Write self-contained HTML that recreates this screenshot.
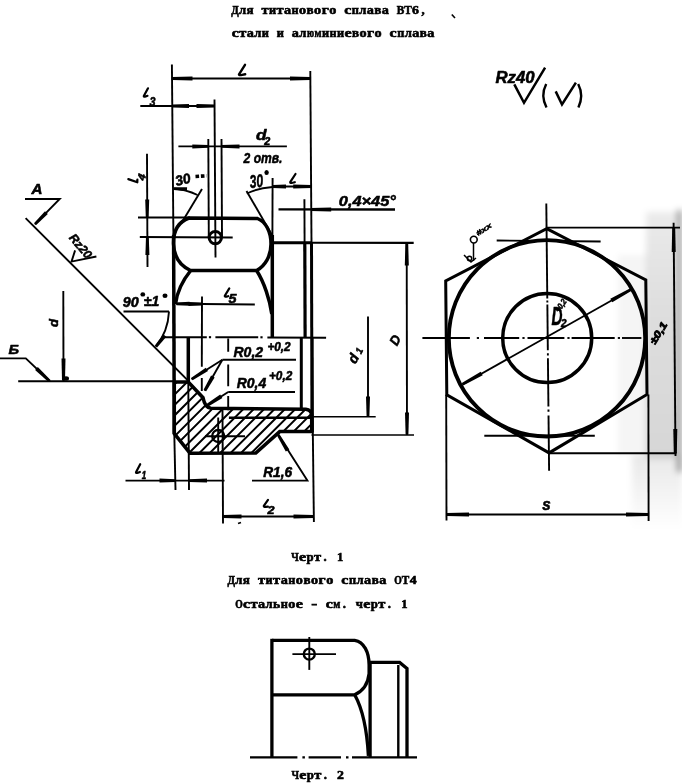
<!DOCTYPE html>
<html><head><meta charset="utf-8"><style>
html,body{margin:0;padding:0;background:#fff;}
body{width:682px;height:784px;overflow:hidden;position:relative;font-family:"Liberation Sans",sans-serif;}
svg{position:absolute;left:0;top:0;will-change:transform;}
</style></head><body>
<svg width="682" height="784" viewBox="0 0 682 784" stroke="#000" fill="#000" stroke-linecap="butt">
<defs>
<linearGradient id="ng" x1="0" x2="0" y1="0" y2="1">
<stop offset="0" stop-color="#000" stop-opacity="0.08"/>
<stop offset="0.4" stop-color="#000" stop-opacity="0.13"/>
<stop offset="1" stop-color="#000" stop-opacity="0.16"/>
</linearGradient>
<linearGradient id="ng2" x1="0" x2="0" y1="0" y2="1">
<stop offset="0" stop-color="#000" stop-opacity="0.09"/>
<stop offset="1" stop-color="#000" stop-opacity="0"/>
</linearGradient>
<radialGradient id="rg"><stop offset="0" stop-color="#000" stop-opacity="0.34"/><stop offset="0.55" stop-color="#000" stop-opacity="0.2"/><stop offset="0.85" stop-color="#000" stop-opacity="0.06"/><stop offset="1" stop-color="#000" stop-opacity="0"/></radialGradient>
<radialGradient id="rg2"><stop offset="0" stop-color="#000" stop-opacity="0.12"/><stop offset="1" stop-color="#000" stop-opacity="0"/></radialGradient>
<filter id="nb" x="-20%" y="-20%" width="140%" height="140%"><feGaussianBlur stdDeviation="3"/></filter>
</defs>
<g filter="url(#nb)" stroke="none">
<rect x="646" y="212" width="31" height="246" fill="url(#ng)"/>
<rect x="677" y="210" width="5" height="262" fill="#000" fill-opacity="0.38"/>
<rect x="632" y="455" width="50" height="75" fill="url(#ng2)"/>
<rect x="618" y="255" width="30" height="200" fill="#000" fill-opacity="0.04"/>
</g>
<g stroke="#000">
<g font-family="Liberation Serif" font-size="12.6" font-weight="bold" stroke="#000" stroke-width="0.6"><text x="231.21" y="13.7" textLength="7.50" lengthAdjust="spacingAndGlyphs">Д</text><text x="238.93" y="13.7" textLength="7.10" lengthAdjust="spacingAndGlyphs">л</text><text x="246.45" y="13.7" textLength="7.10" lengthAdjust="spacingAndGlyphs">я</text><text x="261.49" y="13.7" textLength="7.10" lengthAdjust="spacingAndGlyphs">т</text><text x="269.01" y="13.7" textLength="7.10" lengthAdjust="spacingAndGlyphs">и</text><text x="276.53" y="13.7" textLength="7.10" lengthAdjust="spacingAndGlyphs">т</text><text x="284.05" y="13.7" textLength="7.10" lengthAdjust="spacingAndGlyphs">а</text><text x="291.57" y="13.7" textLength="7.10" lengthAdjust="spacingAndGlyphs">н</text><text x="299.09" y="13.7" textLength="7.10" lengthAdjust="spacingAndGlyphs">о</text><text x="306.61" y="13.7" textLength="7.10" lengthAdjust="spacingAndGlyphs">в</text><text x="314.13" y="13.7" textLength="7.10" lengthAdjust="spacingAndGlyphs">о</text><text x="321.65" y="13.7" textLength="7.10" lengthAdjust="spacingAndGlyphs">г</text><text x="329.17" y="13.7" textLength="7.10" lengthAdjust="spacingAndGlyphs">о</text><text x="344.21" y="13.7" textLength="7.10" lengthAdjust="spacingAndGlyphs">с</text><text x="351.73" y="13.7" textLength="7.10" lengthAdjust="spacingAndGlyphs">п</text><text x="359.25" y="13.7" textLength="7.10" lengthAdjust="spacingAndGlyphs">л</text><text x="366.77" y="13.7" textLength="7.10" lengthAdjust="spacingAndGlyphs">а</text><text x="374.29" y="13.7" textLength="7.10" lengthAdjust="spacingAndGlyphs">в</text><text x="381.81" y="13.7" textLength="7.10" lengthAdjust="spacingAndGlyphs">а</text><text x="396.65" y="13.7" textLength="7.50" lengthAdjust="spacingAndGlyphs">В</text><text x="404.17" y="13.7" textLength="7.50" lengthAdjust="spacingAndGlyphs">Т</text><text x="411.99" y="13.7" textLength="6.90" lengthAdjust="spacingAndGlyphs">6</text><text x="421.38" y="13.7" textLength="3.16" lengthAdjust="spacingAndGlyphs">,</text></g>
<g font-family="Liberation Serif" font-size="12.6" font-weight="bold" stroke="#000" stroke-width="0.6"><text x="231.71" y="36.6" textLength="7.10" lengthAdjust="spacingAndGlyphs">с</text><text x="239.23" y="36.6" textLength="7.10" lengthAdjust="spacingAndGlyphs">т</text><text x="246.75" y="36.6" textLength="7.10" lengthAdjust="spacingAndGlyphs">а</text><text x="254.27" y="36.6" textLength="7.10" lengthAdjust="spacingAndGlyphs">л</text><text x="261.79" y="36.6" textLength="7.10" lengthAdjust="spacingAndGlyphs">и</text><text x="276.83" y="36.6" textLength="7.10" lengthAdjust="spacingAndGlyphs">и</text><text x="291.87" y="36.6" textLength="7.10" lengthAdjust="spacingAndGlyphs">а</text><text x="299.39" y="36.6" textLength="7.10" lengthAdjust="spacingAndGlyphs">л</text><text x="306.91" y="36.6" textLength="7.10" lengthAdjust="spacingAndGlyphs">ю</text><text x="314.43" y="36.6" textLength="7.10" lengthAdjust="spacingAndGlyphs">м</text><text x="321.95" y="36.6" textLength="7.10" lengthAdjust="spacingAndGlyphs">и</text><text x="329.47" y="36.6" textLength="7.10" lengthAdjust="spacingAndGlyphs">н</text><text x="336.99" y="36.6" textLength="7.10" lengthAdjust="spacingAndGlyphs">и</text><text x="344.51" y="36.6" textLength="7.10" lengthAdjust="spacingAndGlyphs">е</text><text x="352.03" y="36.6" textLength="7.10" lengthAdjust="spacingAndGlyphs">в</text><text x="359.55" y="36.6" textLength="7.10" lengthAdjust="spacingAndGlyphs">о</text><text x="367.07" y="36.6" textLength="7.10" lengthAdjust="spacingAndGlyphs">г</text><text x="374.59" y="36.6" textLength="7.10" lengthAdjust="spacingAndGlyphs">о</text><text x="389.63" y="36.6" textLength="7.10" lengthAdjust="spacingAndGlyphs">с</text><text x="397.15" y="36.6" textLength="7.10" lengthAdjust="spacingAndGlyphs">п</text><text x="404.67" y="36.6" textLength="7.10" lengthAdjust="spacingAndGlyphs">л</text><text x="412.19" y="36.6" textLength="7.10" lengthAdjust="spacingAndGlyphs">а</text><text x="419.71" y="36.6" textLength="7.10" lengthAdjust="spacingAndGlyphs">в</text><text x="427.23" y="36.6" textLength="7.10" lengthAdjust="spacingAndGlyphs">а</text></g>
<line x1="451.8" y1="14.5" x2="455" y2="18" stroke-width="1.6" />
<text x="495.5" y="82.6" font-family="Liberation Sans" font-size="16" font-style="italic" font-weight="bold" textLength="39" lengthAdjust="spacingAndGlyphs"  stroke="#000" stroke-width="0.55" stroke-linejoin="round">Rz40</text>
<path d="M514.3,84.3 L524,102.8 L545.1,67.6" stroke-width="2.5" fill="none" />
<path d="M546.2,84 Q540.3,95.5 546.5,107.5" stroke-width="2.4" fill="none" />
<path d="M555.7,91.4 L562,104.5 L575.9,82.6" stroke-width="2.5" fill="none" />
<path d="M578.2,84 Q584,95.5 578.4,107.5" stroke-width="2.4" fill="none" />
<line x1="171.9" y1="64.4" x2="173.4" y2="235" stroke-width="1.9" />
<line x1="310.3" y1="71" x2="311.5" y2="243.5" stroke-width="1.9" />
<line x1="172" y1="78.5" x2="310.3" y2="78.5" stroke-width="1.9" />
<path d="M172.5,77.0 L192.5,76.5 L192.5,80.5 L172.5,80.0 Z" fill="#000" stroke="none"/>
<path d="M310.0,80.0 L290.0,80.5 L290.0,76.5 L310.0,77.0 Z" fill="#000" stroke="none"/>
<path d="M245,64.8 L239,74.3 Q238.7,75.5 242.1,74.89999999999999 L245.2,74.3" stroke-width="2.4" fill="none" stroke-linecap="round" stroke-linejoin="round"/>
<line x1="140.3" y1="106" x2="215" y2="106" stroke-width="1.9" />
<path d="M173.0,104.5 L189.0,104.0 L189.0,108.0 L173.0,107.5 Z" fill="#000" stroke="none"/>
<path d="M214.5,107.5 L196.5,108.0 L196.5,104.0 L214.5,104.5 Z" fill="#000" stroke="none"/>
<line x1="214.5" y1="99.6" x2="215.5" y2="257.5" stroke-width="1.9" />
<path d="M148,88.3 L143.8,96 Q143.5,97.2 145.65,96.5 L147.5,95.8" stroke-width="2.2" fill="none" stroke-linecap="round" stroke-linejoin="round"/>
<text x="149.6" y="105.6" font-family="Liberation Sans" font-size="13" font-style="italic" font-weight="bold" textLength="6" lengthAdjust="spacingAndGlyphs"  stroke="#000" stroke-width="0.55" stroke-linejoin="round">3</text>
<line x1="178.4" y1="146.4" x2="286.9" y2="146.4" stroke-width="1.9" />
<path d="M208.3,147.8 L192.3,148.4 L192.3,144.4 L208.3,145.0 Z" fill="#000" stroke="none"/>
<path d="M221.5,145.0 L239.5,144.4 L239.5,148.4 L221.5,147.8 Z" fill="#000" stroke="none"/>
<line x1="208.3" y1="139" x2="208.8" y2="237" stroke-width="1.9" />
<line x1="221.5" y1="139" x2="222" y2="237" stroke-width="1.9" />
<text x="256" y="139.7" font-family="Liberation Sans" font-size="15" font-style="italic" font-weight="bold" textLength="10.5" lengthAdjust="spacingAndGlyphs"  stroke="#000" stroke-width="0.55" stroke-linejoin="round">d</text>
<text x="264.2" y="144.5" font-family="Liberation Sans" font-size="10" font-style="italic" font-weight="bold" textLength="6" lengthAdjust="spacingAndGlyphs"  stroke="#000" stroke-width="0.55" stroke-linejoin="round">2</text>
<text x="243.6" y="162.5" font-family="Liberation Sans" font-size="14.5" font-style="italic" font-weight="bold" textLength="38.8" lengthAdjust="spacingAndGlyphs"  stroke="#000" stroke-width="0.55" stroke-linejoin="round">2 отв.</text>
<line x1="147" y1="153.7" x2="147.5" y2="267" stroke-width="1.9" />
<path d="M145.8,217.5 L145.2,199.5 L149.2,199.5 L148.6,217.5 Z" fill="#000" stroke="none"/>
<path d="M148.8,237.0 L149.4,255.0 L145.4,255.0 L146.0,237.0 Z" fill="#000" stroke="none"/>
<line x1="138" y1="217.5" x2="190" y2="217.5" stroke-width="1.9" />
<line x1="139.8" y1="237" x2="232.7" y2="237.5" stroke-width="1.9" />
<path d="M128.3,179.1 L137.3,182.3 L137.4,179.6" stroke-width="2.2" fill="none" stroke-linecap="round" stroke-linejoin="round"/>
<text x="0" y="0" font-family="Liberation Sans" font-size="11" font-style="italic" font-weight="bold" transform="translate(144.5,181) rotate(-75)" stroke="#000" stroke-width="0.55" stroke-linejoin="round">4</text>
<text x="0" y="0" font-family="Liberation Sans" font-size="14" font-style="italic" font-weight="bold" textLength="15.5" lengthAdjust="spacingAndGlyphs" transform="translate(176.5,186) rotate(-14)" stroke="#000" stroke-width="0.55" stroke-linejoin="round">30</text>
<path d="M195.5,176.5 L206.5,175.8" stroke-width="3.6" stroke-dasharray="3.6,1.8" fill="none"/>
<path d="M173.5,188.5 Q186,189.5 197.5,195" stroke-width="1.9" fill="none" />
<path d="M174.1,187.2 L187.1,187.3 L186.9,191.2 L173.9,190.0 Z" fill="#000" stroke="none"/>
<line x1="202" y1="189" x2="181.5" y2="223" stroke-width="1.9" />
<text x="0" y="0" font-family="Liberation Sans" font-size="18" font-style="italic" font-weight="bold" textLength="13.5" lengthAdjust="spacingAndGlyphs" transform="translate(250.2,188) rotate(-6)" stroke="#000" stroke-width="0.55" stroke-linejoin="round">30</text>
<ellipse cx="266.6" cy="172.5" rx="2.2" ry="2.5" fill="#000" stroke="none"/>
<path d="M246.8,193.5 Q258,188 272.6,187" stroke-width="1.9" fill="none" />
<line x1="246.5" y1="191" x2="272" y2="235" stroke-width="1.9" />
<line x1="272.6" y1="186.5" x2="311.5" y2="186.5" stroke-width="1.9" />
<path d="M311.2,187.9 L293.2,188.5 L293.2,184.5 L311.2,185.1 Z" fill="#000" stroke="none"/>
<path d="M273.0,185.1 L286.0,184.5 L286.0,188.5 L273.0,187.9 Z" fill="#000" stroke="none"/>
<path d="M295.5,174 L290.2,182.2 Q289.9,183.39999999999998 292.5,182.79999999999998 L294.8,182.2" stroke-width="2.2" fill="none" stroke-linecap="round" stroke-linejoin="round"/>
<line x1="272.6" y1="178" x2="272.4" y2="235" stroke-width="1.9" />
<line x1="278.5" y1="209.3" x2="395" y2="209.5" stroke-width="2.3" />
<path d="M311.2,208.1 L331.2,207.5 L331.2,211.5 L311.2,210.9 Z" fill="#000" stroke="none"/>
<text x="338.8" y="205.9" font-family="Liberation Sans" font-size="15" font-style="italic" font-weight="bold" textLength="57" lengthAdjust="spacingAndGlyphs"  stroke="#000" stroke-width="0.55" stroke-linejoin="round">0,4×45°</text>
<line x1="304.4" y1="199.3" x2="304.6" y2="243" stroke-width="1.9" />
<line x1="272" y1="242.7" x2="311.5" y2="242.7" stroke-width="2.9" />
<line x1="311.5" y1="242.7" x2="413.7" y2="242.9" stroke-width="2.1" />
<line x1="406.7" y1="242.7" x2="407" y2="435" stroke-width="1.9" />
<path d="M408.2,243.5 L408.8,265.5 L404.8,265.5 L405.4,243.5 Z" fill="#000" stroke="none"/>
<path d="M405.6,434.5 L405.0,412.5 L409.0,412.5 L408.4,434.5 Z" fill="#000" stroke="none"/>
<text x="0" y="0" font-family="Liberation Sans" font-size="13.5" font-style="italic" font-weight="bold" textLength="9.5" lengthAdjust="spacingAndGlyphs" transform="translate(397,346.5) rotate(-62)" stroke="#000" stroke-width="0.55" stroke-linejoin="round">D</text>
<line x1="311.5" y1="435" x2="414" y2="435" stroke-width="1.6" />
<line x1="368" y1="316.6" x2="368" y2="417" stroke-width="1.9" />
<path d="M366.6,416.5 L366.0,396.5 L370.0,396.5 L369.4,416.5 Z" fill="#000" stroke="none"/>
<line x1="311.5" y1="416.7" x2="375.7" y2="416.7" stroke-width="1.6" />
<text x="0" y="0" font-family="Liberation Sans" font-size="14" font-style="italic" font-weight="bold" textLength="8.5" lengthAdjust="spacingAndGlyphs" transform="translate(355.5,364.5) rotate(-62)" stroke="#000" stroke-width="0.55" stroke-linejoin="round">d</text>
<text x="0" y="0" font-family="Liberation Sans" font-size="10" font-style="italic" font-weight="bold" textLength="5" lengthAdjust="spacingAndGlyphs" transform="translate(361,354.5) rotate(-62)" stroke="#000" stroke-width="0.55" stroke-linejoin="round">1</text>
<line x1="162.6" y1="337.2" x2="206.8" y2="337.2" stroke-width="2.1" />
<line x1="208.9" y1="337.2" x2="211.1" y2="337.2" stroke-width="2.1" />
<line x1="215.4" y1="337.3" x2="258.2" y2="337.3" stroke-width="2.1" />
<line x1="260.4" y1="337.3" x2="262.6" y2="337.3" stroke-width="2.1" />
<line x1="267.4" y1="337.5" x2="326.1" y2="337.7" stroke-width="2.1" />
<path d="M189,218 L257.5,218.5 C266,222 271,232 271,244 C271,256 265,266 256.6,270.5 L190.5,270.5 C181,266 174,257 173.5,244 C173.2,232 178,222 189,218 Z" stroke-width="3.5" fill="none" />
<path d="M190.7,270.5 C183,280 177,292 175.5,304" stroke-width="3.5" fill="none" />
<path d="M256.6,270.5 C264,282 270,300 271.8,314" stroke-width="3.5" fill="none" />
<line x1="173.6" y1="235" x2="174.3" y2="434" stroke-width="3.5" />
<line x1="272.3" y1="235" x2="272.3" y2="338" stroke-width="3.5" />
<line x1="304.8" y1="243" x2="305.1" y2="338" stroke-width="3.2" />
<line x1="311.5" y1="243" x2="311.75" y2="338" stroke-width="3.0" />
<line x1="311.7" y1="338" x2="313.9" y2="522" stroke-width="1.9" />
<line x1="312" y1="338" x2="312.1" y2="432" stroke-width="3.4" />
<circle cx="215.3" cy="237.6" r="6.2" stroke-width="3.0" fill="none"/>
<line x1="188.3" y1="337" x2="188.3" y2="382" stroke-width="3.5" />
<line x1="188.3" y1="382" x2="189" y2="490" stroke-width="1.9" />
<line x1="174.3" y1="434" x2="175.5" y2="490" stroke-width="1.9" />
<line x1="301.3" y1="338" x2="301.3" y2="408" stroke-width="3.0" />
<line x1="201.8" y1="378" x2="201.8" y2="391" stroke-width="1.9" />
<line x1="228.2" y1="338.6" x2="228.2" y2="410.3" stroke-width="1.9" stroke-dasharray="13.2,12.6,21.8,9.8,14.3"/>
<line x1="222.5" y1="410" x2="223" y2="523.5" stroke-width="1.9" />
<clipPath id="hc"><path d="M174.3,382 L188.3,382 L203,397.7 Q205,408 211,408.3 L305.8,409.2 Q311.2,410 311.7,415 L311.7,431.6 L279.7,431.6 L255.8,453.1 L190,453.2 L174.3,433.6 Z"/></clipPath>
<path d="M-244.0,470 L-144.0,370 M-233.60000000000002,470 L-133.60000000000002,370 M-223.2,470 L-123.19999999999999,370 M-212.8,470 L-112.80000000000001,370 M-202.40000000000003,470 L-102.40000000000003,370 M-192.0,470 L-92.0,370 M-181.60000000000002,470 L-81.60000000000002,370 M-171.2,470 L-71.19999999999999,370 M-160.8,470 L-60.80000000000001,370 M-150.40000000000003,470 L-50.400000000000034,370 M-140.0,470 L-40.0,370 M-129.60000000000002,470 L-29.600000000000023,370 M-119.19999999999999,470 L-19.19999999999999,370 M-108.80000000000001,470 L-8.800000000000011,370 M-98.40000000000003,470 L1.599999999999966,370 M-88.0,470 L12.0,370 M-77.60000000000002,470 L22.399999999999977,370 M-67.20000000000002,470 L32.79999999999998,370 M-56.80000000000001,470 L43.19999999999999,370 M-46.400000000000006,470 L53.599999999999994,370 M-36.0,470 L64.0,370 M-25.599999999999994,470 L74.4,370 M-15.200000000000017,470 L84.79999999999998,370 M-4.800000000000011,470 L95.19999999999999,370 M5.599999999999994,470 L105.6,370 M16.0,470 L116.0,370 M26.400000000000006,470 L126.4,370 M36.79999999999998,470 L136.79999999999998,370 M47.19999999999999,470 L147.2,370 M57.599999999999994,470 L157.6,370 M68.0,470 L168.0,370 M78.39999999999999,470 L178.39999999999998,370 M88.8,470 L188.8,370 M99.2,470 L199.2,370 M109.6,470 L209.6,370 M120.0,470 L220.0,370 M130.4,470 L230.4,370 M140.8,470 L240.8,370 M151.2,470 L251.2,370 M161.6,470 L261.6,370 M172.0,470 L272.0,370 M182.4,470 L282.4,370 M192.8,470 L292.8,370 M203.2,470 L303.2,370 M213.6,470 L313.6,370 M224.0,470 L324.0,370 M234.4,470 L334.4,370 M244.8,470 L344.8,370 M255.2,470 L355.2,370 M265.6,470 L365.6,370 M276.0,470 L376.0,370 M286.4,470 L386.4,370 M296.8,470 L396.8,370 M307.20000000000005,470 L407.20000000000005,370 M317.6,470 L417.6,370 M328.0,470 L428.0,370 M338.4,470 L438.4,370 M348.8,470 L448.8,370 M359.20000000000005,470 L459.20000000000005,370 M369.6,470 L469.6,370 M380.0,470 L480.0,370 M390.4,470 L490.4,370 M400.8,470 L500.8,370 M411.20000000000005,470 L511.20000000000005,370 M421.6,470 L521.6,370 M432.0,470 L532.0,370 M442.40000000000003,470 L542.4000000000001,370 M452.8,470 L552.8,370 M463.2,470 L563.2,370 M473.6,470 L573.6,370 M484.0,470 L584.0,370 M494.40000000000003,470 L594.4000000000001,370 M504.8,470 L604.8,370 M515.2,470 L615.2,370 M525.6,470 L625.6,370 M536.0,470 L636.0,370 M546.4000000000001,470 L646.4000000000001,370 M556.8,470 L656.8,370 M567.2,470 L667.2,370 M577.6,470 L677.6,370" stroke-width="2.0" clip-path="url(#hc)"/>
<path d="M174.3,382 L188.3,382 L203,397.7 Q205,408 211,408.3 L305.8,409.2 Q311.2,410 311.7,415 L311.7,431.6 L279.7,431.6 L255.8,453.1 L190,453.2 L174.3,433.6 Z" stroke-width="3.5" fill="none" />
<line x1="228.9" y1="417.7" x2="310.5" y2="417.7" stroke-width="2.6" />
<circle cx="218.2" cy="436" r="6.0" stroke-width="2.3" fill="none"/>
<line x1="205" y1="436.2" x2="245" y2="436.2" stroke-width="1.9" />
<line x1="218.2" y1="417.5" x2="218.2" y2="453.2" stroke-width="1.9" />
<line x1="25.6" y1="218.1" x2="188.3" y2="380.8" stroke-width="1.9" />
<text x="233.5" y="356.9" font-family="Liberation Sans" font-size="15" font-style="italic" font-weight="bold" textLength="29.6" lengthAdjust="spacingAndGlyphs"  stroke="#000" stroke-width="0.55" stroke-linejoin="round">R0,2</text>
<text x="267.4" y="351.4" font-family="Liberation Sans" font-size="12.5" font-style="italic" font-weight="bold" textLength="23.2" lengthAdjust="spacingAndGlyphs"  stroke="#000" stroke-width="0.55" stroke-linejoin="round">+0,2</text>
<line x1="222.4" y1="359.8" x2="296" y2="359.8" stroke-width="1.9" />
<line x1="222.4" y1="359.8" x2="191.5" y2="379.3" stroke-width="1.9" />
<path d="M191.0,377.9 L205.8,367.7 L208.0,371.0 L192.6,380.3 Z" fill="#000" stroke="none"/>
<line x1="222.4" y1="359.8" x2="204.7" y2="390.8" stroke-width="1.9" />
<path d="M203.6,389.8 L211.1,375.6 L214.6,377.6 L206.2,391.2 Z" fill="#000" stroke="none"/>
<text x="236.7" y="388" font-family="Liberation Sans" font-size="15" font-style="italic" font-weight="bold" textLength="29.5" lengthAdjust="spacingAndGlyphs"  stroke="#000" stroke-width="0.55" stroke-linejoin="round">R0,4</text>
<text x="269" y="379.8" font-family="Liberation Sans" font-size="12.5" font-style="italic" font-weight="bold" textLength="23.2" lengthAdjust="spacingAndGlyphs"  stroke="#000" stroke-width="0.55" stroke-linejoin="round">+0,2</text>
<line x1="228.2" y1="392" x2="295" y2="392" stroke-width="1.9" />
<line x1="228.2" y1="392" x2="205.8" y2="406.3" stroke-width="1.9" />
<path d="M205.4,404.8 L220.2,394.6 L222.4,397.9 L207.0,407.2 Z" fill="#000" stroke="none"/>
<text x="122.8" y="306.9" font-family="Liberation Sans" font-size="14.5" font-style="italic" font-weight="bold" textLength="16" lengthAdjust="spacingAndGlyphs"  stroke="#000" stroke-width="0.55" stroke-linejoin="round">90</text>
<text x="143.8" y="306" font-family="Liberation Sans" font-size="14" font-style="italic" font-weight="bold" textLength="15.5" lengthAdjust="spacingAndGlyphs"  stroke="#000" stroke-width="0.55" stroke-linejoin="round">±1</text>
<ellipse cx="142.8" cy="294.4" rx="2.4" ry="2.2" fill="#000" stroke="none"/>
<ellipse cx="165" cy="295.8" rx="2.5" ry="2.2" fill="#000" stroke="none"/>
<line x1="123.5" y1="311.5" x2="169" y2="311.5" stroke-width="1.9" />
<path d="M169,311.5 Q168,332 155.7,346.7" stroke-width="1.9" fill="none" />
<path d="M154.9,345.6 L163.2,334.3 L166.3,336.8 L157.1,347.4 Z" fill="#000" stroke="none"/>
<line x1="176" y1="303.8" x2="254.8" y2="304.5" stroke-width="1.9" />
<path d="M176.5,302.4 L189.5,301.8 L189.5,305.8 L176.5,305.2 Z" fill="#000" stroke="none"/>
<path d="M201.5,305.4 L188.5,306.0 L188.5,302.0 L201.5,302.6 Z" fill="#000" stroke="none"/>
<line x1="202" y1="296.4" x2="201.8" y2="366.7" stroke-width="1.9" />
<path d="M229.3,288.4 L224.8,295.8 Q224.5,297.0 226.5,296.6 L228.2,296.2" stroke-width="2.2" fill="none" stroke-linecap="round" stroke-linejoin="round"/>
<text x="228.6" y="302.6" font-family="Liberation Sans" font-size="12" font-style="italic" font-weight="bold" textLength="8" lengthAdjust="spacingAndGlyphs"  stroke="#000" stroke-width="0.55" stroke-linejoin="round">5</text>
<text x="31.5" y="193.6" font-family="Liberation Sans" font-size="14.5" font-style="italic" font-weight="bold" textLength="11" lengthAdjust="spacingAndGlyphs"  stroke="#000" stroke-width="0.55" stroke-linejoin="round">A</text>
<path d="M25,199 L59.7,199 L34.8,224.3" stroke-width="1.9" fill="none" />
<path d="M34.2,223.0 L45.0,211.2 L47.8,214.0 L36.2,225.0 Z" fill="#000" stroke="none"/>
<text x="0" y="0" font-family="Liberation Sans" font-size="12" font-style="italic" font-weight="bold" textLength="28" lengthAdjust="spacingAndGlyphs" transform="translate(68.5,238) rotate(50)" stroke="#000" stroke-width="0.55" stroke-linejoin="round">Rz20</text>
<path d="M75.1,250.4 L71.5,261.6 L96.4,256.5" stroke-width="1.9" fill="none" />
<line x1="63.3" y1="291" x2="63.5" y2="381" stroke-width="1.9" />
<path d="M62.0,380.5 L61.5,358.5 L65.5,358.5 L65.0,380.5 Z" fill="#000" stroke="none"/>
<ellipse cx="66" cy="378.5" rx="3" ry="2.2" fill="#000" stroke="none"/>
<text x="0" y="0" font-family="Liberation Sans" font-size="13" font-style="italic" font-weight="bold" textLength="8" lengthAdjust="spacingAndGlyphs" transform="translate(57.8,327) rotate(-90)" stroke="#000" stroke-width="0.55" stroke-linejoin="round">d</text>
<line x1="18.2" y1="381.3" x2="174" y2="381.3" stroke-width="1.9" />
<path d="M0,358.4 L25.8,358.4 L49.9,381.3" stroke-width="1.9" fill="none" />
<path d="M48.5,382.1 L35.1,370.0 L37.8,367.1 L50.5,379.9 Z" fill="#000" stroke="none"/>
<text x="8.6" y="354.3" font-family="Liberation Sans" font-size="13.5" font-style="italic" font-weight="bold" textLength="10.5" lengthAdjust="spacingAndGlyphs"  stroke="#000" stroke-width="0.55" stroke-linejoin="round">Б</text>
<line x1="125.5" y1="480.6" x2="224.5" y2="480.6" stroke-width="1.9" />
<path d="M175.5,482.1 L159.5,482.6 L159.5,478.6 L175.5,479.2 Z" fill="#000" stroke="none"/>
<path d="M189.0,479.2 L207.0,478.6 L207.0,482.6 L189.0,482.1 Z" fill="#000" stroke="none"/>
<path d="M140.2,464.2 L136,472.2 Q135.7,473.4 137.95,472.70000000000005 L139.9,472" stroke-width="2.2" fill="none" stroke-linecap="round" stroke-linejoin="round"/>
<text x="141.8" y="478.5" font-family="Liberation Sans" font-size="10.5" font-style="italic" font-weight="bold" textLength="4.5" lengthAdjust="spacingAndGlyphs"  stroke="#000" stroke-width="0.55" stroke-linejoin="round">1</text>
<text x="263.2" y="477" font-family="Liberation Sans" font-size="14" font-style="italic" font-weight="bold" textLength="29" lengthAdjust="spacingAndGlyphs"  stroke="#000" stroke-width="0.55" stroke-linejoin="round">R1,6</text>
<path d="M252,480.6 L307.4,480.6 L278,434.5" stroke-width="1.9" fill="none" />
<path d="M279.5,434.3 L289.3,449.4 L285.8,451.5 L277.1,435.7 Z" fill="#000" stroke="none"/>
<line x1="223" y1="516.5" x2="313.9" y2="516.5" stroke-width="1.9" />
<path d="M223.5,515.0 L241.5,514.5 L241.5,518.5 L223.5,518.0 Z" fill="#000" stroke="none"/>
<path d="M313.5,518.0 L293.5,518.5 L293.5,514.5 L313.5,515.0 Z" fill="#000" stroke="none"/>
<path d="M268,499.8 L263.8,505.8 Q263.5,507.0 265.85,506.80000000000007 L267.9,506.6" stroke-width="2.2" fill="none" stroke-linecap="round" stroke-linejoin="round"/>
<text x="267.6" y="513.8" font-family="Liberation Sans" font-size="11" font-style="italic" font-weight="bold" textLength="7" lengthAdjust="spacingAndGlyphs"  stroke="#000" stroke-width="0.55" stroke-linejoin="round">2</text>
<line x1="238" y1="523.5" x2="241" y2="522.5" stroke-width="1.6" />
<path d="M546.7,228.6 L645.8,280 L647,394.5 L549.1,452.9 L446.8,394.8 L445.7,281 Z" stroke-width="3.0" fill="none" />
<circle cx="547" cy="338.3" r="98.2" stroke-width="3.9" fill="none"/>
<circle cx="547.2" cy="338" r="44.5" stroke-width="3.5" fill="none"/>
<line x1="546.3" y1="203.6" x2="547.29" y2="298.5" stroke-width="1.9" />
<line x1="547.32" y1="300.5" x2="547.34" y2="302.5" stroke-width="1.9" />
<line x1="547.36" y1="304.5" x2="547.84" y2="350.2" stroke-width="1.9" />
<line x1="547.87" y1="353.2" x2="547.89" y2="355.4" stroke-width="1.9" />
<line x1="547.92" y1="358.2" x2="548.43" y2="406.4" stroke-width="1.9" />
<line x1="548.46" y1="409.5" x2="548.48" y2="411.7" stroke-width="1.9" />
<line x1="548.52" y1="415.4" x2="549.1" y2="470.7" stroke-width="1.9" />
<line x1="422.4" y1="338" x2="469.9" y2="338" stroke-width="1.9" />
<line x1="476.8" y1="338" x2="479" y2="338" stroke-width="1.9" />
<line x1="484" y1="338" x2="519.2" y2="338" stroke-width="1.9" />
<line x1="522.4" y1="338" x2="524.6" y2="338" stroke-width="1.9" />
<line x1="527.5" y1="338" x2="564.4" y2="338" stroke-width="1.9" />
<line x1="567.4" y1="338" x2="569.6" y2="338" stroke-width="1.9" />
<line x1="571.6" y1="338" x2="614.7" y2="338" stroke-width="1.9" />
<line x1="617.8" y1="338" x2="620" y2="338" stroke-width="1.9" />
<line x1="622" y1="338" x2="641.4" y2="338" stroke-width="1.9" />
<line x1="496.7" y1="240.5" x2="600.6" y2="241.5" stroke-width="1.9" />
<line x1="484.3" y1="435.8" x2="594.8" y2="435.8" stroke-width="1.9" />
<line x1="462.3" y1="384.5" x2="632" y2="289" stroke-width="1.9" />
<path d="M461.8,383.0 L480.7,371.8 L482.7,375.3 L463.2,385.6 Z" fill="#000" stroke="none"/>
<path d="M631.2,291.1 L612.3,302.3 L610.3,298.8 L629.8,288.5 Z" fill="#000" stroke="none"/>
<text x="551.5" y="324.7" font-family="Liberation Sans" font-size="26" font-style="italic" font-weight="bold" textLength="11" lengthAdjust="spacingAndGlyphs"  stroke="#000" stroke-width="0.55" stroke-linejoin="round">D</text>
<text x="561" y="327" font-family="Liberation Sans" font-size="10" font-style="italic" font-weight="bold" textLength="5.5" lengthAdjust="spacingAndGlyphs"  stroke="#000" stroke-width="0.55" stroke-linejoin="round">2</text>
<text x="0" y="0" font-family="Liberation Sans" font-size="8.5" font-style="italic" font-weight="bold" textLength="14" lengthAdjust="spacingAndGlyphs" transform="translate(559,313) rotate(-55)" stroke="#000" stroke-width="0.55" stroke-linejoin="round">+0,2</text>
<circle cx="473.8" cy="239.6" r="3.4" stroke-width="1.6" fill="none"/>
<line x1="473.5" y1="243" x2="473.5" y2="261" stroke-width="1.5" />
<path d="M464,255 L471,262 L476,258" stroke-width="1.5" fill="none" />
<circle cx="469.5" cy="258.5" r="2.2" stroke-width="1.4" fill="none"/>
<text x="0" y="0" font-family="Liberation Sans" font-size="7" font-style="italic" font-weight="bold" textLength="17" lengthAdjust="spacingAndGlyphs" transform="translate(478,236) rotate(-33)" stroke="#000" stroke-width="0.55" stroke-linejoin="round">#xx</text>
<text x="0" y="0" font-family="Liberation Sans" font-size="10" font-style="italic" font-weight="bold" textLength="24" lengthAdjust="spacingAndGlyphs" transform="translate(655,345) rotate(-58)" stroke="#000" stroke-width="0.9">±0,1</text>
<line x1="546.7" y1="227.6" x2="680" y2="227.6" stroke-width="1.9" />
<line x1="549.1" y1="453.3" x2="676.5" y2="453.3" stroke-width="1.9" />
<line x1="673.6" y1="222.7" x2="675.5" y2="456" stroke-width="1.9" />
<path d="M675.2,228.0 L675.7,252.0 L671.7,252.0 L672.2,228.0 Z" fill="#000" stroke="none"/>
<path d="M673.8,453.0 L673.3,429.0 L677.3,429.0 L676.8,453.0 Z" fill="#000" stroke="none"/>
<line x1="446.2" y1="394.8" x2="446.5" y2="520.6" stroke-width="1.9" />
<line x1="648.4" y1="394.5" x2="648.6" y2="521" stroke-width="1.9" />
<line x1="446.5" y1="514.5" x2="648.6" y2="514.5" stroke-width="1.9" />
<path d="M447.0,513.0 L469.0,512.5 L469.0,516.5 L447.0,516.0 Z" fill="#000" stroke="none"/>
<path d="M648.0,516.0 L626.0,516.5 L626.0,512.5 L648.0,513.0 Z" fill="#000" stroke="none"/>
<text x="542.3" y="510" font-family="Liberation Sans" font-size="17" font-style="italic" font-weight="bold" textLength="8.5" lengthAdjust="spacingAndGlyphs"  stroke="#000" stroke-width="0.55" stroke-linejoin="round">s</text>
<path d="M271.9,640.4 L354.7,640.4 C364,642 369,652 369.1,664.9 L369.1,673.6 C368,684 363,691 354.7,694.8 L271.9,694.8" stroke-width="3.3" fill="none" />
<line x1="271.9" y1="638.8" x2="271.9" y2="757.6" stroke-width="3.3" />
<path d="M354.7,694.8 C362,708 367,730 368.4,755.8" stroke-width="3.3" fill="none" />
<line x1="370.1" y1="661" x2="370.1" y2="757.6" stroke-width="3.3" />
<path d="M370.1,662.4 L399.6,662.4 L407,668.6 L407,757.6" stroke-width="3.3" fill="none" />
<line x1="398.3" y1="665" x2="398.3" y2="757.6" stroke-width="2.4" />
<line x1="250" y1="757.4" x2="417" y2="757.4" stroke-width="2.3" stroke-dasharray="47.4,5,2.5,3.7,32.4,5,2.5,3.5,80"/>
<circle cx="309.3" cy="654.1" r="5.5" stroke-width="2.4" fill="none"/>
<line x1="292.4" y1="654.1" x2="336" y2="654.1" stroke-width="1.9" />
<line x1="309.3" y1="637" x2="309.3" y2="669.9" stroke-width="1.9" />
<g font-family="Liberation Serif" font-size="12.6" font-weight="bold" stroke="#000" stroke-width="0.6"><text x="291.21" y="561.1" textLength="7.50" lengthAdjust="spacingAndGlyphs">Ч</text><text x="298.93" y="561.1" textLength="7.10" lengthAdjust="spacingAndGlyphs">е</text><text x="306.45" y="561.1" textLength="7.10" lengthAdjust="spacingAndGlyphs">р</text><text x="313.97" y="561.1" textLength="7.10" lengthAdjust="spacingAndGlyphs">т</text><text x="323.46" y="561.1" textLength="3.16" lengthAdjust="spacingAndGlyphs">.</text><text x="336.93" y="561.1" textLength="6.30" lengthAdjust="spacingAndGlyphs">1</text></g>
<g font-family="Liberation Serif" font-size="12.6" font-weight="bold" stroke="#000" stroke-width="0.6"><text x="227.44" y="584.2" textLength="7.50" lengthAdjust="spacingAndGlyphs">Д</text><text x="235.22" y="584.2" textLength="7.10" lengthAdjust="spacingAndGlyphs">л</text><text x="242.80" y="584.2" textLength="7.10" lengthAdjust="spacingAndGlyphs">я</text><text x="257.96" y="584.2" textLength="7.10" lengthAdjust="spacingAndGlyphs">т</text><text x="265.54" y="584.2" textLength="7.10" lengthAdjust="spacingAndGlyphs">и</text><text x="273.12" y="584.2" textLength="7.10" lengthAdjust="spacingAndGlyphs">т</text><text x="280.70" y="584.2" textLength="7.10" lengthAdjust="spacingAndGlyphs">а</text><text x="288.28" y="584.2" textLength="7.10" lengthAdjust="spacingAndGlyphs">н</text><text x="295.86" y="584.2" textLength="7.10" lengthAdjust="spacingAndGlyphs">о</text><text x="303.44" y="584.2" textLength="7.10" lengthAdjust="spacingAndGlyphs">в</text><text x="311.02" y="584.2" textLength="7.10" lengthAdjust="spacingAndGlyphs">о</text><text x="318.60" y="584.2" textLength="7.10" lengthAdjust="spacingAndGlyphs">г</text><text x="326.18" y="584.2" textLength="7.10" lengthAdjust="spacingAndGlyphs">о</text><text x="341.34" y="584.2" textLength="7.10" lengthAdjust="spacingAndGlyphs">с</text><text x="348.92" y="584.2" textLength="7.10" lengthAdjust="spacingAndGlyphs">п</text><text x="356.50" y="584.2" textLength="7.10" lengthAdjust="spacingAndGlyphs">л</text><text x="364.08" y="584.2" textLength="7.10" lengthAdjust="spacingAndGlyphs">а</text><text x="371.66" y="584.2" textLength="7.10" lengthAdjust="spacingAndGlyphs">в</text><text x="379.24" y="584.2" textLength="7.10" lengthAdjust="spacingAndGlyphs">а</text><text x="394.20" y="584.2" textLength="7.50" lengthAdjust="spacingAndGlyphs">О</text><text x="401.78" y="584.2" textLength="7.50" lengthAdjust="spacingAndGlyphs">Т</text><text x="409.66" y="584.2" textLength="6.90" lengthAdjust="spacingAndGlyphs">4</text></g>
<g font-family="Liberation Serif" font-size="12.6" font-weight="bold" stroke="#000" stroke-width="0.6"><text x="235.31" y="607.9" textLength="7.50" lengthAdjust="spacingAndGlyphs">О</text><text x="243.03" y="607.9" textLength="7.10" lengthAdjust="spacingAndGlyphs">с</text><text x="250.55" y="607.9" textLength="7.10" lengthAdjust="spacingAndGlyphs">т</text><text x="258.07" y="607.9" textLength="7.10" lengthAdjust="spacingAndGlyphs">а</text><text x="265.59" y="607.9" textLength="7.10" lengthAdjust="spacingAndGlyphs">л</text><text x="273.11" y="607.9" textLength="7.10" lengthAdjust="spacingAndGlyphs">ь</text><text x="280.63" y="607.9" textLength="7.10" lengthAdjust="spacingAndGlyphs">н</text><text x="288.15" y="607.9" textLength="7.10" lengthAdjust="spacingAndGlyphs">о</text><text x="295.67" y="607.9" textLength="7.10" lengthAdjust="spacingAndGlyphs">е</text><text x="311.26" y="607.9" textLength="6.00" lengthAdjust="spacingAndGlyphs">-</text><text x="325.75" y="607.9" textLength="7.10" lengthAdjust="spacingAndGlyphs">с</text><text x="333.27" y="607.9" textLength="7.10" lengthAdjust="spacingAndGlyphs">м</text><text x="342.76" y="607.9" textLength="3.16" lengthAdjust="spacingAndGlyphs">.</text><text x="355.83" y="607.9" textLength="7.10" lengthAdjust="spacingAndGlyphs">ч</text><text x="363.35" y="607.9" textLength="7.10" lengthAdjust="spacingAndGlyphs">е</text><text x="370.87" y="607.9" textLength="7.10" lengthAdjust="spacingAndGlyphs">р</text><text x="378.39" y="607.9" textLength="7.10" lengthAdjust="spacingAndGlyphs">т</text><text x="387.88" y="607.9" textLength="3.16" lengthAdjust="spacingAndGlyphs">.</text><text x="401.35" y="607.9" textLength="6.30" lengthAdjust="spacingAndGlyphs">1</text></g>
<g font-family="Liberation Serif" font-size="12.6" font-weight="bold" stroke="#000" stroke-width="0.6"><text x="291.51" y="779.4" textLength="7.50" lengthAdjust="spacingAndGlyphs">Ч</text><text x="299.23" y="779.4" textLength="7.10" lengthAdjust="spacingAndGlyphs">е</text><text x="306.75" y="779.4" textLength="7.10" lengthAdjust="spacingAndGlyphs">р</text><text x="314.27" y="779.4" textLength="7.10" lengthAdjust="spacingAndGlyphs">т</text><text x="323.76" y="779.4" textLength="3.16" lengthAdjust="spacingAndGlyphs">.</text><text x="336.93" y="779.4" textLength="6.90" lengthAdjust="spacingAndGlyphs">2</text></g>
</g>
</svg>
</body></html>
